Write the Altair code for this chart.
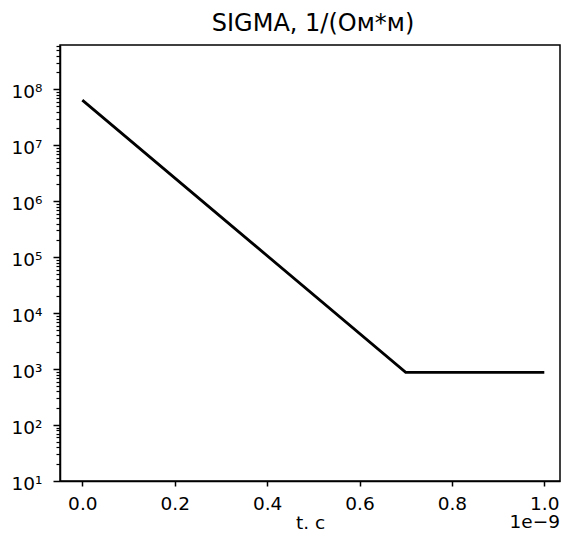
import altair as alt
import pandas as pd

# data (time in seconds, conductivity in 1/(Ohm*m))
t_s = [0.0, 0.7e-9, 1.0e-9]
sigma = [6.4e7, 875.0, 875.0]

x_ticks = [0.0, 0.2e-9, 0.4e-9, 0.6e-9, 0.8e-9, 1.0e-9]
y_major = [1e1, 1e2, 1e3, 1e4, 1e5, 1e6, 1e7, 1e8]
y_minor = [m * 10.0 ** k for k in range(1, 9) for m in range(2, 10) if m * 10.0 ** k <= 6.2e8]
y_ticks = sorted(y_major + y_minor)

df = pd.DataFrame({"t": t_s, "sigma": sigma})
note = pd.DataFrame({"label": ["1e−9"]})

FONT = "DejaVu Sans"
LABEL_SIZE = 18.5
is_major = "abs(log(datum.value)/LN10 - round(log(datum.value)/LN10)) < 1e-6"
sup = "['⁰','¹','²','³','⁴','⁵','⁶','⁷','⁸','⁹']"

line = alt.Chart(df).mark_line(color="black", strokeWidth=2.8).encode(
    x=alt.X(
        "t:Q",
        scale=alt.Scale(domain=[-0.0483e-9, 1.034e-9], nice=False, zero=False),
        axis=alt.Axis(
            values=x_ticks,
            labelExpr="format(datum.value*1e9, '.1f')",
            title="t. c",
            grid=False,
            tickSize=5,
            tickWidth=1.5,
            tickColor="black",
            domainColor="black",
            domainWidth=1.5,
            labelColor="black",
            labelFont=FONT,
            labelFontSize=LABEL_SIZE,
            labelPadding=8,
            labelFlush=False,
            titleFont=FONT,
            titleFontSize=LABEL_SIZE,
            titleFontWeight="normal",
            titleColor="black",
            titleBaseline="alphabetic",
            titleY=47,
        ),
    ),
    y=alt.Y(
        "sigma:Q",
        scale=alt.Scale(type="log", domain=[10, 6.2e8], nice=False),
        axis=alt.Axis(
            values=y_ticks,
            labelExpr=f"{is_major} ? '10' + {sup}[round(log(datum.value)/LN10)] : ''",
            title=None,
            grid=False,
            tickSize={"condition": {"test": is_major, "value": 7}, "value": 4},
            tickWidth={"condition": {"test": is_major, "value": 1.5}, "value": 1.2},
            tickColor="black",
            domainColor="black",
            domainWidth=1.5,
            labelColor="black",
            labelFont=FONT,
            labelFontSize=LABEL_SIZE,
            labelPadding=11,
            labelOffset=2,
            labelOverlap=False,
            labelFlush=False,
            labelBaseline="middle",
        ),
    ),
)

exp_label = alt.Chart(note).mark_text(
    align="right", baseline="alphabetic", font=FONT, fontSize=LABEL_SIZE, color="black"
).encode(x=alt.value(500), y=alt.value(483), text="label:N")

chart = (
    alt.layer(line, exp_label)
    .properties(
        width=500,
        height=436,
        autosize=alt.AutoSizeParams(type="none"),
        padding={"left": 52, "top": 37, "right": 1, "bottom": 51},
        title=alt.TitleParams(
            "SIGMA, 1/(Ом*м)",
            font=FONT,
            fontSize=24,
            fontWeight="normal",
            color="black",
            anchor="middle",
            offset=3,
            dx=3,
        ),
    )
    .configure_view(stroke="black", strokeWidth=1.5)
)

chart.save("out.html", embed_options={"renderer": "svg", "actions": False})
